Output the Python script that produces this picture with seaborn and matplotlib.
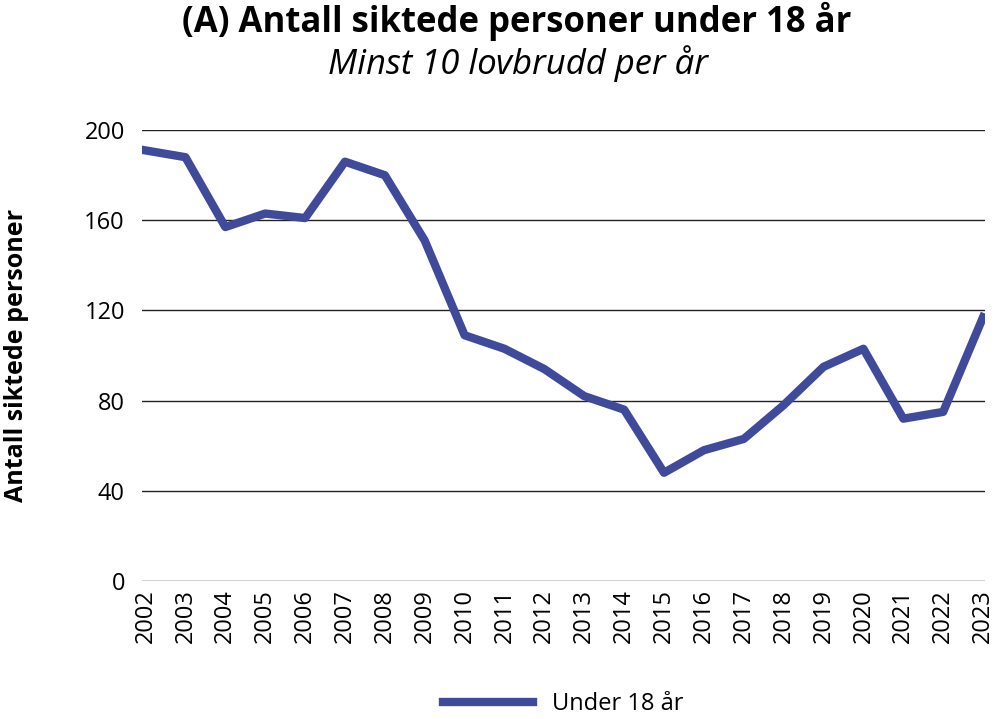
import matplotlib
matplotlib.use("Agg")
import matplotlib.pyplot as plt
import seaborn as sns
import pandas as pd

years = [str(y) for y in range(2002, 2024)]
values = [191, 188, 157, 163, 161, 186, 180, 151, 109, 103, 94, 82, 76, 48, 58, 63, 78, 95, 103, 72, 75, 117]
yticks = [0, 40, 80, 120, 160, 200]

plt.rcParams["font.family"] = "Open Sans"
df = pd.DataFrame({"year": range(len(years)), "val": values, "s": "Under 18 år"})
fig = plt.figure(figsize=(9.97, 7.19), dpi=100)
ax = fig.add_axes([0.142, 0.192, 0.846, 0.627])
sns.lineplot(data=df, x="year", y="val", hue="s", palette=["#3f4a9a"], linewidth=6, ax=ax, legend=True)
ax.set_ylim(0, 200)
ax.set_xlim(-0.1, len(years) - 0.95)
ax.set_yticks(yticks)
ax.set_xticks(range(len(years)))
ax.set_xticklabels(years, rotation=90, fontsize=17)
ax.tick_params(axis="y", labelsize=17, length=0, pad=12)
ax.tick_params(axis="x", length=0, pad=6)
ax.grid(axis="y", color="#222222", linewidth=1)
ax.set_axisbelow(True)
for s in ax.spines.values():
    s.set_visible(False)
ax.set_xlabel("")
ax.set_ylabel("Antall siktede personer", fontsize=18, fontweight="bold", labelpad=40)
fig.text(0.518, 0.97, "(A) Antall siktede personer under 18 år", ha="center", va="center", fontsize=25, fontweight="bold")
fig.text(0.52, 0.912, "Minst 10 lovbrudd per år", ha="center", va="center", fontsize=25, style="italic")
ax.legend(loc="upper center", bbox_to_anchor=(0.5, -0.2), frameon=False, fontsize=17, handlelength=3.8)
fig.savefig("out.png", dpi=100)
